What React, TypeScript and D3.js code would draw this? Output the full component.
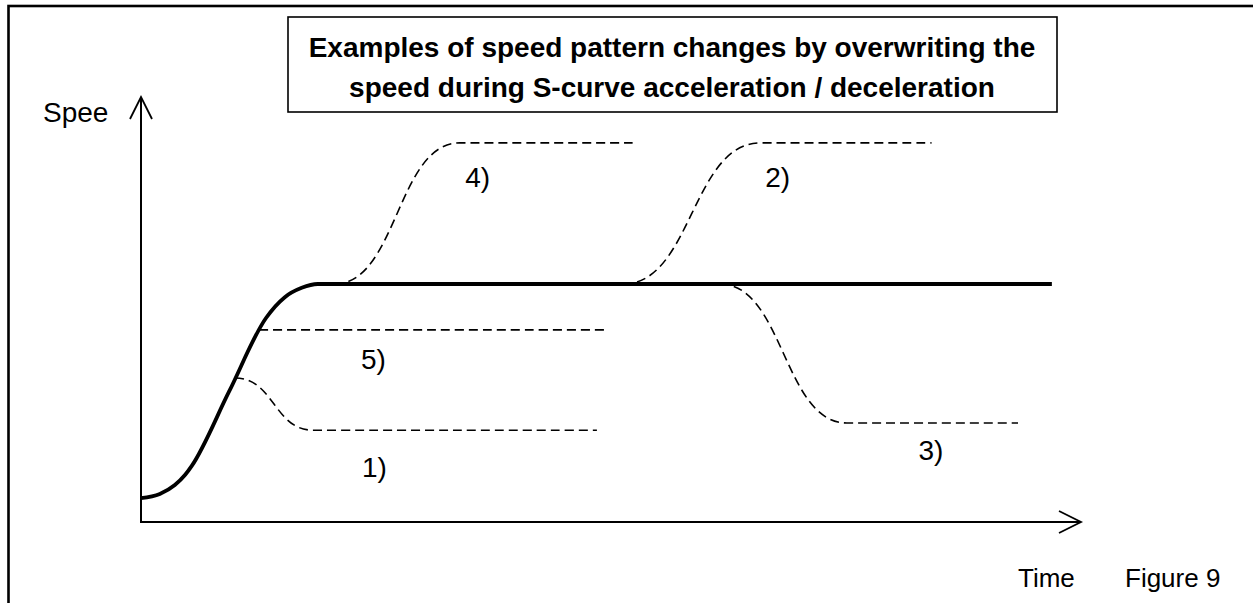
import React from "react";
import * as d3 from "d3";

// Schematic data (arbitrary units: time 0..100, speed 0..100)
const mainTime = [0, 2.0, 3.6, 4.7, 5.4, 9.35, 13.3, 15.3, 17.1, 18.8, 96.9];
const mainSpeed = [5.6, 6.6, 8.7, 11.1, 13.2, 30.6, 48.0, 52.9, 55.1, 56.0, 56.0];

const case1Time = [10.0, 18.3, 48.5];
const case1Speed = [33.9, 21.6, 21.6];
const case2Time = [51.3, 65.9, 84.1];
const case2Speed = [56.0, 89.2, 89.2];
const case3Time = [61.6, 75.1, 93.3];
const case3Speed = [56.0, 23.3, 23.3];
const case4Time = [20.6, 33.9, 52.3];
const case4Speed = [56.0, 89.2, 89.2];
const case5Time = [12.55, 49.4];
const case5Speed = [45.2, 45.2];

const caseLabels = ["1)", "2)", "3)", "4)", "5)"];
const caseLabelTime = [23.5, 66.4, 82.7, 34.5, 23.4];
const caseLabelSpeed = [10.6, 78.8, 14.6, 78.8, 36.0];

const titleLines = [
  "Examples of speed pattern changes by overwriting the",
  "speed during S-curve acceleration / deceleration",
];
const yAxisLabel = "Spee";
const xAxisLabel = "Time";
const figureLabel = "Figure 9";

const W = 1253;
const H = 603;
const FONT = "'Liberation Sans', Arial, Helvetica, sans-serif";

export default function App() {
  const x = d3.scaleLinear().domain([0, 100]).range([141, 1081]);
  const y = d3.scaleLinear().domain([0, 100]).range([522, 97]);

  const zip = (t: number[], s: number[]) => t.map((v, i) => [v, s[i]] as [number, number]);

  const mainLine = d3
    .line<[number, number]>()
    .x((d) => x(d[0]))
    .y((d) => y(d[1]))
    .curve(d3.curveMonotoneX);

  const sLine = d3
    .line<[number, number]>()
    .x((d) => x(d[0]))
    .y((d) => y(d[1]))
    .curve(d3.curveBumpX);

  const cases = [
    zip(case1Time, case1Speed),
    zip(case2Time, case2Speed),
    zip(case3Time, case3Speed),
    zip(case4Time, case4Speed),
    zip(case5Time, case5Speed),
  ];

  const x0 = x(0);
  const y0 = y(0);
  const xEnd = x(100);
  const yEnd = y(100);

  return (
    <div style={{ position: "absolute", left: 0, top: 0 }}>
      <svg width={W} height={H} style={{ display: "block", background: "#fff" }}>
        {/* outer frame */}
        <rect x={8.5} y={6} width={1400} height={800} fill="none" stroke="#000" strokeWidth={2.6} />

        {/* title box */}
        <rect x={288} y={17} width={769} height={95} fill="#fff" stroke="#000" strokeWidth={1.6} />
        {titleLines.map((t, i) => (
          <text
            key={i}
            x={672}
            y={57 + i * 40}
            textAnchor="middle"
            fontFamily={FONT}
            fontWeight="bold"
            fontSize={28}
            fill="#000"
          >
            {t}
          </text>
        ))}

        {/* axes */}
        <line x1={x0} y1={y0} x2={x0} y2={yEnd} stroke="#000" strokeWidth={2} />
        <polyline
          points={`${x0 - 11},${yEnd + 22} ${x0},${yEnd} ${x0 + 11},${yEnd + 22}`}
          fill="none"
          stroke="#000"
          strokeWidth={1.8}
        />
        <line x1={x0 - 1} y1={y0} x2={xEnd} y2={y0} stroke="#000" strokeWidth={2} />
        <polyline
          points={`${xEnd - 22},${y0 - 11} ${xEnd},${y0} ${xEnd - 22},${y0 + 11}`}
          fill="none"
          stroke="#000"
          strokeWidth={1.8}
        />

        {/* dashed override cases */}
        {cases.map((c, i) => (
          <path
            key={i}
            d={sLine(c) || ""}
            fill="none"
            stroke="#000"
            strokeWidth={1.6}
            strokeDasharray="9 5"
          />
        ))}

        {/* main S-curve speed pattern */}
        <path
          d={mainLine(zip(mainTime, mainSpeed)) || ""}
          fill="none"
          stroke="#000"
          strokeWidth={3.8}
          strokeLinejoin="round"
        />

        {/* case labels */}
        {caseLabels.map((l, i) => (
          <text
            key={l}
            x={x(caseLabelTime[i])}
            y={y(caseLabelSpeed[i])}
            fontFamily={FONT}
            fontSize={28}
            fill="#000"
          >
            {l}
          </text>
        ))}

        {/* axis labels */}
        <text x={43} y={122} fontFamily={FONT} fontSize={28} fill="#000">
          {yAxisLabel}
        </text>
        <text x={1018} y={587} fontFamily={FONT} fontSize={26} fill="#000">
          {xAxisLabel}
        </text>
        <text x={1125} y={587} fontFamily={FONT} fontSize={26} fill="#000">
          {figureLabel}
        </text>
      </svg>
    </div>
  );
}
